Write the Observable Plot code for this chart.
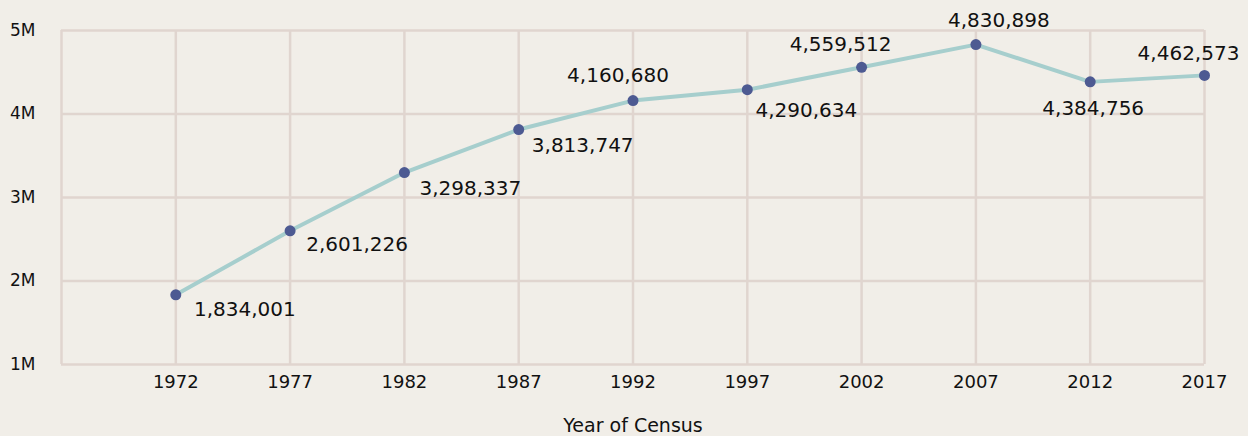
<!DOCTYPE html>
<html>
<head>
<meta charset="utf-8">
<script src="https://cdn.jsdelivr.net/npm/d3@7"></script>
<script src="https://cdn.jsdelivr.net/npm/@observablehq/plot@0.6"></script>
<style>
  html, body { margin: 0; padding: 0; background: #f1eee8; }
  #chart svg { display: block; }
</style>
</head>
<body>
<div id="chart"></div>
<script>
// Data
const years = [1972, 1977, 1982, 1987, 1992, 1997, 2002, 2007, 2012, 2017];
const values = [1834001, 2601226, 3298337, 3813747, 4160680, 4290634, 4559512, 4830898, 4384756, 4462573];
const yTicks = [1000000, 2000000, 3000000, 4000000, 5000000];
const xLabel = "Year of Census";

const data = years.map((year, i) => ({year, value: values[i]}));

// label placement (offsets from each point, in px)
const placement = {
  1972: [69, 15], 1977: [67, 14], 1982: [66, 16], 1987: [64, 16],
  1992: [-15, -25], 1997: [59, 21], 2002: [-21, -23], 2007: [23, -24],
  2012: [3, 27], 2017: [-16, -22]
};

const gridColor = "#e0d5cf";
const fontFamily = "DejaVu Sans, sans-serif";

const labelMarks = data.map(d => Plot.text([d], {
  x: "year", y: "value",
  text: v => d3.format(",")(v.value),
  dx: placement[d.year][0], dy: placement[d.year][1],
  fontSize: 20, fill: "#111", textAnchor: "middle",
  style: "letter-spacing:0.5px"
}));

const chart = Plot.plot({
  width: 1248,
  height: 436,
  marginTop: 30,
  marginBottom: 72,
  marginLeft: 61,
  marginRight: 44,
  style: {background: "#f1eee8", fontFamily, color: "#111"},
  x: {domain: [1967, 2017], axis: null},
  y: {domain: [1000000, 5000000], axis: null},
  marks: [
    Plot.ruleX([1967, ...years], {stroke: gridColor, strokeWidth: 2.5}),
    Plot.ruleY(yTicks, {stroke: gridColor, strokeWidth: 2.5}),
    Plot.line(data, {x: "year", y: "value", stroke: "#a6cecd", strokeWidth: 4}),
    Plot.dot(data, {x: "year", y: "value", r: 5.5, fill: "#4d5a92", stroke: null}),
    ...labelMarks,
    Plot.axisX({ticks: years, tickSize: 0, tickPadding: 11, tickFormat: d => String(d), fontSize: 18, label: null}),
    Plot.axisY({ticks: yTicks, tickSize: 0, tickPadding: 26, tickFormat: d => (d / 1e6) + "M", fontSize: 17, label: null}),
    Plot.text([xLabel], {frameAnchor: "bottom", dy: 67, fontSize: 19, fill: "#111"})
  ]
});

document.getElementById("chart").appendChild(chart);
</script>
</body>
</html>
